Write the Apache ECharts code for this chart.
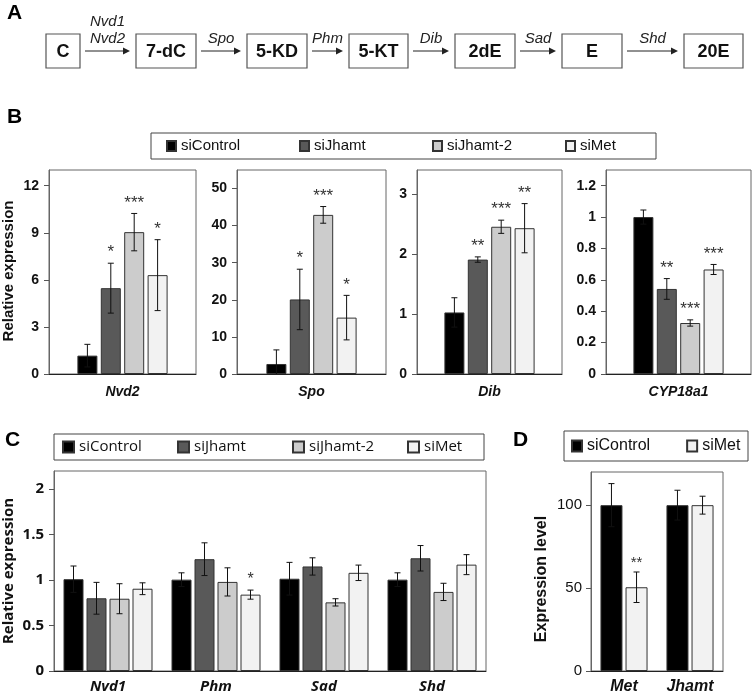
<!DOCTYPE html>
<html>
<head>
<meta charset="utf-8">
<script src="https://cdn.jsdelivr.net/npm/echarts@6/dist/echarts.min.js"></script>
<style>html,body{margin:0;padding:0;background:#fff;}#main{width:752px;height:695px;}</style>
</head>
<body>
<div id="main"></div>
<script>
// ---------------- DATA ----------------
const seriesNames = ['siControl', 'siJhamt', 'siJhamt-2', 'siMet'];

// Panel A pathway
const pathwaySteps = ['C', '7-dC', '5-KD', '5-KT', '2dE', 'E', '20E'];
const pathwayEnzymes = [['Nvd1', 'Nvd2'], ['Spo'], ['Phm'], ['Dib'], ['Sad'], ['Shd']];

// Panel B (values per series: siControl, siJhamt, siJhamt-2, siMet)
const bGenes = ['Nvd2', 'Spo', 'Dib', 'CYP18a1'];
const nvd2Mean = [1.17, 5.47, 9.04, 6.30];
const nvd2Err  = [0.72, 1.59, 1.19, 2.26];
const nvd2Sig  = ['', '*', '***', '*'];
const spoMean  = [2.7, 20.1, 42.9, 15.2];
const spoErr   = [3.8, 8.15, 2.25, 6.0];
const spoSig   = ['', '*', '***', '*'];
const dibMean  = [1.026, 1.907, 2.454, 2.43];
const dibErr   = [0.245, 0.045, 0.11, 0.41];
const dibSig   = ['', '**', '***', '**'];
const cypMean  = [1.0, 0.542, 0.325, 0.666];
const cypErr   = [0.045, 0.066, 0.02, 0.032];
const cypSig   = ['', '**', '***', '***'];
const nvd2Ticks = [0, 3, 6, 9, 12];
const spoTicks  = [0, 10, 20, 30, 40, 50];
const dibTicks  = [0, 1, 2, 3];
const cypTicks  = [0, 0.2, 0.4, 0.6, 0.8, 1, 1.2];

// Panel C (values per gene: Nvd1, Phm, Sad, Shd)
const cGenes = ['Nvd1', 'Phm', 'Sad', 'Shd'];
const cControl    = [1.01, 1.005, 1.015, 1.005];
const cControlErr = [0.145, 0.075, 0.18, 0.075];
const cJhamt      = [0.80, 1.23, 1.15, 1.24];
const cJhamtErr   = [0.175, 0.18, 0.095, 0.14];
const cJhamt2     = [0.795, 0.98, 0.755, 0.87];
const cJhamt2Err  = [0.165, 0.155, 0.04, 0.095];
const cMet        = [0.905, 0.84, 1.08, 1.17];
const cMetErr     = [0.065, 0.05, 0.085, 0.11];
const cMetSig     = ['', '*', '', ''];
const cTicks = [0, 0.5, 1, 1.5, 2];

// Panel D (values per gene: Met, Jhamt)
const dGenes = ['Met', 'Jhamt'];
const dControl    = [100, 100];
const dControlErr = [13, 9];
const dMet        = [50.5, 100];
const dMetErr     = [9.2, 5.4];
const dMetSig     = ['**', ''];
const dTicks = [0, 50, 100];

// ---------------- STYLE ----------------
const colorMap = {
  'siControl': '#000000',
  'siJhamt': '#595959',
  'siJhamt-2': '#cccccc',
  'siMet': '#f2f2f2'
};
const ARIAL = '"Liberation Sans", Arial, sans-serif';
const SEGOE = '"Open Sans", "Liberation Sans", sans-serif';

const grids = [], xAxes = [], yAxes = [], series = [], graphics = [];

function addPanel(cfg) {
  const g = grids.length;
  grids.push({left: cfg.left, top: cfg.top, width: cfg.width, height: cfg.height,
    show: true, borderColor: '#666', borderWidth: 1, backgroundColor: 'transparent'});
  xAxes.push({gridIndex: g, type: 'category', data: cfg.cats,
    axisTick: {show: false},
    axisLine: {show: true, lineStyle: {color: '#222', width: 1}},
    axisLabel: {fontFamily: cfg.font, fontStyle: 'italic', fontWeight: 'bold',
      fontSize: cfg.catFont, color: '#111', margin: cfg.catMargin}});
  yAxes.push({gridIndex: g, type: 'value', min: 0, max: cfg.max, interval: cfg.interval,
    splitLine: {show: false},
    axisLine: {show: true, lineStyle: {color: '#666'}},
    axisTick: {show: true, length: 5, customValues: cfg.ticks, lineStyle: {color: '#555'}},
    axisLabel: {customValues: cfg.ticks, margin: cfg.labelMargin, fontFamily: cfg.font,
      fontWeight: cfg.labelWeight, fontSize: cfg.labelSize, color: '#111'}});
  const n = cfg.series.length;
  const spacing = cfg.barWidth * (1 + cfg.gapPct / 100);
  cfg.series.forEach((s, k) => {
    series.push({type: 'bar', name: s.name, xAxisIndex: g, yAxisIndex: g,
      data: s.mean, barWidth: cfg.barWidth, barGap: cfg.gapPct + '%',
      itemStyle: {color: colorMap[s.name], borderColor: '#333', borderWidth: 1},
      emphasis: {disabled: true}, z: 2});
    const offset = (k - (n - 1) / 2) * spacing;
    const sig = s.sig || [];
    series.push({type: 'custom', xAxisIndex: g, yAxisIndex: g, z: 5, silent: true,
      data: s.mean.map((m, i) => [i, m, s.err[i]]),
      renderItem: function (params, api) {
        const ci = api.value(0), v = api.value(1), e = api.value(2);
        const base = api.coord([ci, v]);
        const x = base[0] + offset;
        const yt = api.coord([ci, v + e])[1];
        const clipped = v - e < 0;
        const yb = api.coord([ci, Math.max(v - e, 0)])[1];
        const st = {stroke: '#111', lineWidth: 1};
        const ch = [
          {type: 'line', shape: {x1: x, y1: yt, x2: x, y2: yb}, style: st},
          {type: 'line', shape: {x1: x - 3, y1: yt, x2: x + 3, y2: yt}, style: st}
        ];
        if (!clipped) {
          ch.push({type: 'line', shape: {x1: x - 3, y1: yb, x2: x + 3, y2: yb}, style: st});
        }
        const sg = sig[params.dataIndex];
        if (sg) {
          ch.push({type: 'text', x: x, y: yt - 2,
            style: {text: sg, align: 'center', verticalAlign: 'bottom',
              font: cfg.starSize + 'px ' + ARIAL, fill: '#333'}});
        }
        return {type: 'group', children: ch};
      }});
  });
}

// Panel B
const bPanels = [
  {left: 49, width: 147, max: 13, interval: 3, ticks: nvd2Ticks, mean: nvd2Mean, err: nvd2Err, sig: nvd2Sig, gene: bGenes[0]},
  {left: 237, width: 149, max: 55, interval: 10, ticks: spoTicks, mean: spoMean, err: spoErr, sig: spoSig, gene: bGenes[1]},
  {left: 417, width: 145, max: 3.4, interval: 1, ticks: dibTicks, mean: dibMean, err: dibErr, sig: dibSig, gene: bGenes[2]},
  {left: 606, width: 145, max: 1.3, interval: 0.2, ticks: cypTicks, mean: cypMean, err: cypErr, sig: cypSig, gene: bGenes[3]}
];
bPanels.forEach(p => {
  addPanel({left: p.left, top: 170, width: p.width, height: 204, cats: [p.gene],
    max: p.max, interval: p.interval, ticks: p.ticks, font: ARIAL,
    catFont: 14, catMargin: 11, labelMargin: 10, labelWeight: 'bold', labelSize: 14,
    barWidth: 20, gapPct: 17, starSize: 17,
    series: seriesNames.map((nm, k) => ({name: nm, mean: [p.mean[k]], err: [p.err[k]], sig: [p.sig[k]]}))});
});

// Panel C
addPanel({left: 54, top: 471, width: 432, height: 200, cats: cGenes,
  max: 2.2, interval: 0.5, ticks: cTicks, font: SEGOE,
  catFont: 15, catMargin: 8, labelMargin: 10, labelWeight: 'bold', labelSize: 15,
  barWidth: 20, gapPct: 15, starSize: 16,
  series: [
    {name: seriesNames[0], mean: cControl, err: cControlErr},
    {name: seriesNames[1], mean: cJhamt, err: cJhamtErr},
    {name: seriesNames[2], mean: cJhamt2, err: cJhamt2Err},
    {name: seriesNames[3], mean: cMet, err: cMetErr, sig: cMetSig}
  ]});

// Panel D
addPanel({left: 591, top: 472, width: 132, height: 200, cats: dGenes,
  max: 120, interval: 50, ticks: dTicks, font: ARIAL,
  catFont: 16, catMargin: 8, labelMargin: 9, labelWeight: 'normal', labelSize: 15,
  barWidth: 22, gapPct: 14, starSize: 15,
  series: [
    {name: seriesNames[0], mean: dControl, err: dControlErr},
    {name: seriesNames[3], mean: dMet, err: dMetErr, sig: dMetSig}
  ]});

// ---------------- Panel A graphics ----------------
const boxLayout = [[46, 34], [136, 60], [247, 60], [349, 59], [455, 60], [562, 60], [684, 59]];
const boxTop = 34, boxH = 34, arrowY = 51;
pathwaySteps.forEach((s, i) => {
  const [bx, bw] = boxLayout[i];
  graphics.push({type: 'rect', shape: {x: bx, y: boxTop, width: bw, height: boxH},
    style: {fill: '#fff', stroke: '#555', lineWidth: 1.2}});
  graphics.push({type: 'text', x: bx + bw / 2, y: boxTop + boxH / 2 + 1,
    style: {text: s, align: 'center', verticalAlign: 'middle', font: 'bold 18px ' + ARIAL, fill: '#111'}});
});
pathwayEnzymes.forEach((enz, i) => {
  const x1 = boxLayout[i][0] + boxLayout[i][1] + 5;
  const x2 = boxLayout[i + 1][0] - 6;
  graphics.push({type: 'line', shape: {x1: x1, y1: arrowY, x2: x2 - 6, y2: arrowY},
    style: {stroke: '#222', lineWidth: 1}});
  graphics.push({type: 'polygon', shape: {points: [[x2, arrowY], [x2 - 7, arrowY - 3.5], [x2 - 7, arrowY + 3.5]]},
    style: {fill: '#222'}});
  const cx = (x1 + x2) / 2;
  enz.forEach((t, j) => {
    const yy = enz.length === 2 ? (j === 0 ? 22 : 39) : 39;
    graphics.push({type: 'text', x: cx, y: yy,
      style: {text: t, align: 'center', verticalAlign: 'middle', font: 'italic 15px ' + ARIAL, fill: '#222'}});
  });
});

// Panel letters
[['A', 7, 13], ['B', 7, 117], ['C', 5, 440], ['D', 513, 440]].forEach(([t, x, y]) => {
  graphics.push({type: 'text', x: x, y: y,
    style: {text: t, align: 'left', verticalAlign: 'middle', font: 'bold 21px ' + ARIAL, fill: '#000'}});
});

// Axis titles
graphics.push({type: 'text', x: 9, y: 271, rotation: Math.PI / 2,
  style: {text: 'Relative expression', align: 'center', verticalAlign: 'middle', font: 'bold 15px ' + ARIAL, fill: '#111'}});
graphics.push({type: 'text', x: 9, y: 571, rotation: Math.PI / 2,
  style: {text: 'Relative expression', align: 'center', verticalAlign: 'middle', font: 'bold 15px ' + SEGOE, fill: '#111'}});
graphics.push({type: 'text', x: 542, y: 579, rotation: Math.PI / 2,
  style: {text: 'Expression level', align: 'center', verticalAlign: 'middle', font: 'bold 16px ' + ARIAL, fill: '#111'}});

// Legend frames
graphics.push({type: 'rect', shape: {x: 151, y: 133, width: 505, height: 26}, style: {fill: 'none', stroke: '#444', lineWidth: 1}});
graphics.push({type: 'rect', shape: {x: 54, y: 434, width: 430, height: 26}, style: {fill: 'none', stroke: '#444', lineWidth: 1}});
graphics.push({type: 'rect', shape: {x: 564, y: 431, width: 184, height: 30}, style: {fill: 'none', stroke: '#444', lineWidth: 1}});

const legends = [
  {data: seriesNames, left: 166, top: 138, itemWidth: 9, itemHeight: 10, itemGap: 18, width: 600,
   textStyle: {fontFamily: ARIAL, fontSize: 15, color: '#111', width: 100, lineHeight: 16}},
  {data: seriesNames, left: 62, top: 439, itemWidth: 11, itemHeight: 11, itemGap: 13, width: 600,
   textStyle: {fontFamily: SEGOE, fontSize: 15, color: '#111', width: 85, lineHeight: 16}},
  {data: [seriesNames[0], seriesNames[3]], left: 571, top: 438, itemWidth: 10, itemHeight: 11, itemGap: 36, width: 400,
   textStyle: {fontFamily: ARIAL, fontSize: 16, color: '#111', lineHeight: 16}}
].map(l => Object.assign({icon: 'rect', selectedMode: false, padding: 0, orient: 'horizontal'}, l));

const chart = echarts.init(document.getElementById('main'), null, {renderer: 'canvas'});
chart.setOption({
  animation: false,
  backgroundColor: '#fff',
  grid: grids, xAxis: xAxes, yAxis: yAxes,
  legend: legends,
  series: series,
  graphic: graphics
});
</script>
</body>
</html>
